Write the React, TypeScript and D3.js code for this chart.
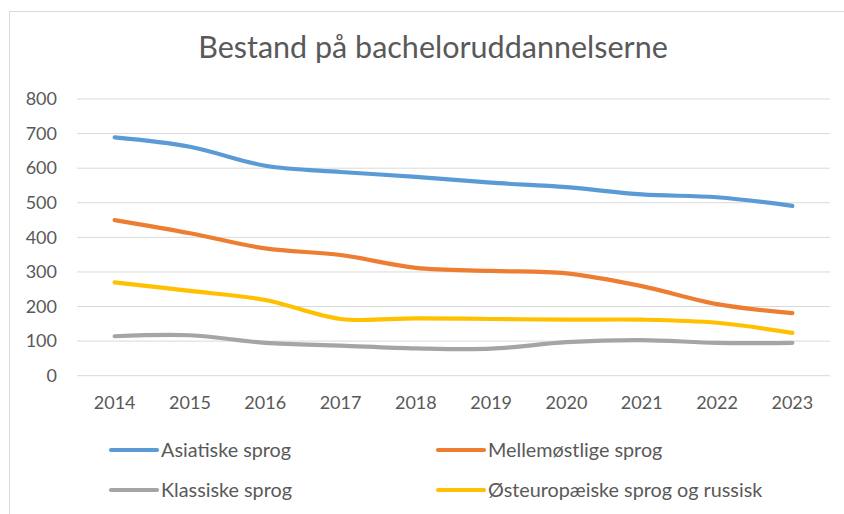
import * as d3 from "d3";

const years = ["2014", "2015", "2016", "2017", "2018", "2019", "2020", "2021", "2022", "2023"];
const asiatiske = [689, 662, 607, 589, 575, 558, 545, 524, 516, 491];
const mellemostlige = [450, 412, 368, 349, 312, 303, 296, 259, 207, 181];
const klassiske = [114, 117, 95, 87, 79, 78, 97, 103, 95, 95];
const osteuropaeiske = [270, 245, 219, 164, 166, 164, 162, 162, 153, 124];
const yTicks = [0, 100, 200, 300, 400, 500, 600, 700, 800];

const series = [
  { name: "Asiatiske sprog", values: asiatiske, color: "#5B9BD5" },
  { name: "Mellemøstlige sprog", values: mellemostlige, color: "#ED7D31" },
  { name: "Klassiske sprog", values: klassiske, color: "#A5A5A5" },
  { name: "Østeuropæiske sprog og russisk", values: osteuropaeiske, color: "#FFC000" },
];

const W = 844;
const H = 514;
const font = "Lato, 'Open Sans', sans-serif";
const textColor = "#595959";

export default function App() {
  const x = d3.scaleBand<string>().domain(years).range([77, 830]).padding(0);
  const y = d3.scaleLinear().domain([0, 800]).range([375.7, 99]);
  const cx = (yr: string) => (x(yr) || 0) + x.bandwidth() / 2;

  const line = d3
    .line<number>()
    .x((_, i) => cx(years[i]))
    .y((d) => y(d))
    .curve(d3.curveCatmullRom.alpha(0.5));

  // legend: two columns, two rows
  const legendCols = [111, 438];
  const legendRows = [450, 490];

  return (
    <svg
      width={W}
      height={H}
      style={{ position: "fixed", left: 0, top: 0, background: "#fff" }}
      fontFamily={font}
    >
      <rect x={9.5} y={11.5} width={W} height={H} fill="#fff" stroke="#D9D9D9" />
      <text x={433} y={58} textAnchor="middle" fontSize={30.5} fill={textColor}>
        Bestand på bacheloruddannelserne
      </text>

      {yTicks.map((t) => (
        <g key={t}>
          <line x1={77} x2={830} y1={y(t)} y2={y(t)} stroke="#D9D9D9" strokeWidth={1} />
          <text x={57} y={y(t)} dy="0.35em" textAnchor="end" fontSize={18} fill={textColor}>
            {t}
          </text>
        </g>
      ))}

      {years.map((yr) => (
        <text key={yr} x={cx(yr)} y={403} dy="0.35em" textAnchor="middle" fontSize={18} fill={textColor}>
          {yr}
        </text>
      ))}

      {series.map((s) => (
        <path
          key={s.name}
          d={line(s.values) || ""}
          fill="none"
          stroke={s.color}
          strokeWidth={4.2}
          strokeLinecap="round"
          strokeLinejoin="round"
        />
      ))}

      {series.map((s, i) => {
        const lx = legendCols[i % 2];
        const ly = legendRows[Math.floor(i / 2)];
        return (
          <g key={s.name}>
            <line x1={lx} x2={lx + 46} y1={ly} y2={ly} stroke={s.color} strokeWidth={4.2} strokeLinecap="round" />
            <text x={lx + 50} y={ly} dy="0.35em" fontSize={19.8} fill={textColor}>
              {s.name}
            </text>
          </g>
        );
      })}
    </svg>
  );
}
